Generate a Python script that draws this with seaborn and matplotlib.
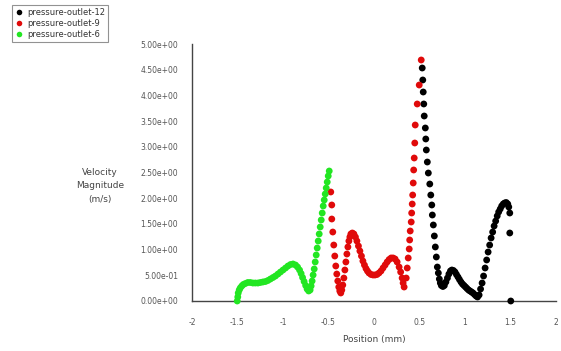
import numpy as np
import pandas as pd
import matplotlib
matplotlib.use("Agg")
import matplotlib.pyplot as plt
import seaborn as sns

series_names = ["pressure-outlet-12", "pressure-outlet-9", "pressure-outlet-6"]
series_colors = ["#000000", "#e00a0a", "#22e622"]

green_x = [-1.503, -1.497, -1.492, -1.481, -1.470, -1.453, -1.436, -1.414, -1.387, -1.359,
           -1.331, -1.304, -1.276, -1.249, -1.221, -1.193, -1.166, -1.138, -1.110, -1.083,
           -1.055, -1.028, -1.000, -0.972, -0.945, -0.917, -0.890, -0.862, -0.840, -0.818,
           -0.801, -0.785, -0.768, -0.751, -0.735, -0.718, -0.702, -0.691, -0.680, -0.669,
           -0.657, -0.646, -0.635, -0.624, -0.613, -0.602, -0.591, -0.580, -0.569, -0.558,
           -0.547, -0.536, -0.525, -0.514, -0.503, -0.492]
green_v = [0.000, 0.078, 0.156, 0.214, 0.253, 0.292, 0.321, 0.340, 0.360, 0.360,
           0.350, 0.350, 0.350, 0.360, 0.370, 0.379, 0.399, 0.428, 0.457, 0.486,
           0.525, 0.564, 0.603, 0.642, 0.681, 0.710, 0.720, 0.700, 0.661, 0.603,
           0.535, 0.457, 0.379, 0.302, 0.233, 0.195, 0.214, 0.292, 0.389, 0.506,
           0.623, 0.759, 0.895, 1.031, 1.167, 1.304, 1.440, 1.576, 1.712, 1.848,
           1.965, 2.082, 2.198, 2.315, 2.432, 2.529]

red_x = [-0.475, -0.464, -0.464, -0.453, -0.442, -0.431, -0.420, -0.409, -0.398, -0.387,
         -0.376, -0.365, -0.354, -0.343, -0.331, -0.320, -0.309, -0.298, -0.287, -0.276,
         -0.265, -0.254, -0.238, -0.221, -0.204, -0.188, -0.171, -0.155, -0.138, -0.122,
         -0.105, -0.088, -0.072, -0.055, -0.033, -0.011, 0.011, 0.033, 0.055, 0.077,
         0.099, 0.122, 0.144, 0.166, 0.188, 0.210, 0.232, 0.254, 0.276, 0.293,
         0.309, 0.320, 0.331, 0.354, 0.365, 0.376, 0.387, 0.392, 0.398, 0.409,
         0.414, 0.420, 0.425, 0.431, 0.436, 0.442, 0.448, 0.453, 0.475, 0.497, 0.519]
red_v = [2.121, 1.868, 1.595, 1.342, 1.089, 0.875, 0.681, 0.525, 0.389, 0.272,
         0.195, 0.156, 0.214, 0.311, 0.447, 0.603, 0.759, 0.914, 1.051, 1.167,
         1.245, 1.304, 1.323, 1.304, 1.245, 1.167, 1.070, 0.973, 0.875, 0.778,
         0.700, 0.632, 0.584, 0.545, 0.516, 0.506, 0.506, 0.516, 0.545, 0.584,
         0.642, 0.700, 0.759, 0.807, 0.837, 0.837, 0.817, 0.759, 0.661, 0.564,
         0.447, 0.350, 0.272, 0.447, 0.642, 0.837, 1.012, 1.187, 1.362, 1.537,
         1.712, 1.887, 2.062, 2.296, 2.549, 2.782, 3.074, 3.424, 3.833, 4.202, 4.689]

black_x = [0.530, 0.536, 0.541, 0.547, 0.552, 0.564, 0.569, 0.575, 0.586, 0.597,
           0.613, 0.624, 0.635, 0.641, 0.652, 0.663, 0.674, 0.685, 0.696, 0.707,
           0.718, 0.729, 0.740, 0.757, 0.773, 0.790, 0.807, 0.823, 0.840, 0.856,
           0.873, 0.890, 0.906, 0.923, 0.939, 0.956, 0.972, 0.989, 1.006, 1.022,
           1.039, 1.055, 1.072, 1.088, 1.105, 1.122, 1.138, 1.155, 1.171, 1.188,
           1.204, 1.221, 1.238, 1.254, 1.271, 1.287, 1.304, 1.320, 1.337, 1.354,
           1.370, 1.387, 1.403, 1.420, 1.436, 1.453, 1.470, 1.481, 1.492, 1.492, 1.503]
black_v = [4.533, 4.300, 4.066, 3.833, 3.599, 3.366, 3.152, 2.938, 2.704, 2.490,
           2.276, 2.062, 1.868, 1.673, 1.479, 1.265, 1.051, 0.856, 0.661, 0.545,
           0.428, 0.350, 0.302, 0.282, 0.302, 0.370, 0.447, 0.525, 0.584, 0.603,
           0.593, 0.564, 0.516, 0.467, 0.418, 0.370, 0.331, 0.302, 0.272, 0.243,
           0.214, 0.195, 0.175, 0.156, 0.126, 0.097, 0.078, 0.117, 0.233, 0.350,
           0.486, 0.642, 0.798, 0.953, 1.089, 1.226, 1.342, 1.459, 1.556, 1.654,
           1.732, 1.790, 1.848, 1.887, 1.907, 1.916, 1.887, 1.829, 1.712, 1.323, 0.000]

x_ticks = [-2, -1.5, -1, -0.5, 0, 0.5, 1, 1.5, 2]
x_tick_labels = ["-2", "-1.5", "-1", "-0.5", "0", "0.5", "1", "1.5", "2"]
y_ticks = [0, 0.5, 1.0, 1.5, 2.0, 2.5, 3.0, 3.5, 4.0, 4.5, 5.0]

df = pd.concat([
    pd.DataFrame({"Position": black_x, "Velocity": black_v, "series": series_names[0]}),
    pd.DataFrame({"Position": red_x, "Velocity": red_v, "series": series_names[1]}),
    pd.DataFrame({"Position": green_x, "Velocity": green_v, "series": series_names[2]}),
], ignore_index=True)

sns.set_style("white")
plt.rcParams["font.family"] = ["DejaVu Sans"]

fig = plt.figure(figsize=(5.61, 3.51), dpi=100)
ax = fig.add_axes([192 / 561, 1 - 301 / 351, (556 - 192) / 561, (301 - 44) / 351])

palette = dict(zip(series_names, series_colors))
sns.scatterplot(data=df, x="Position", y="Velocity", hue="series", palette=palette,
                hue_order=series_names, s=24, linewidth=0, edgecolor="none",
                ax=ax, legend=False, clip_on=False, zorder=3)

ax.set_xlim(-2, 2)
ax.set_ylim(0, 5)
ax.set_xticks(x_ticks)
ax.set_xticklabels(x_tick_labels)
ax.set_yticks(y_ticks)
ax.set_yticklabels([f"{v:.2e}" for v in y_ticks])
ax.set_xticks(np.arange(-2, 2.01, 0.25), minor=True)
ax.set_yticks(np.arange(0, 5.01, 0.25), minor=True)

for side in ["top", "right"]:
    ax.spines[side].set_visible(False)
for side in ["left", "bottom"]:
    ax.spines[side].set_color("#444444")
    ax.spines[side].set_linewidth(1.0)

ax.tick_params(axis="both", which="major", direction="out", length=3, width=0.8,
               color="#444444", labelsize=5.5, labelcolor="#555555", pad=7)
ax.tick_params(axis="both", which="minor", direction="in", length=2, width=0.6,
               color="#444444")
ax.tick_params(axis="x", which="major", pad=9)

ax.set_xlabel("Position (mm)", fontsize=6.5, color="#444444", labelpad=6)
ax.set_ylabel("")
fig.text(100 / 561, 1 - 186 / 351, "Velocity\nMagnitude\n(m/s)", fontsize=6.5,
         color="#444444", ha="center", va="center", linespacing=1.7)

handles = [plt.Line2D([], [], marker="o", linestyle="none", markersize=4,
                      markerfacecolor=c, markeredgecolor="none") for c in series_colors]
leg = fig.legend(handles, series_names, loc="upper left",
                 bbox_to_anchor=(12 / 561, 1 - 5 / 351), fontsize=6,
                 frameon=True, fancybox=False, borderpad=0.35, labelspacing=0.25,
                 handletextpad=0.5, handlelength=1.0, borderaxespad=0)
leg.get_frame().set_edgecolor("#777777")
leg.get_frame().set_linewidth(0.8)
for t in leg.get_texts():
    t.set_color("#333333")

fig.savefig("out.png", dpi=100)
